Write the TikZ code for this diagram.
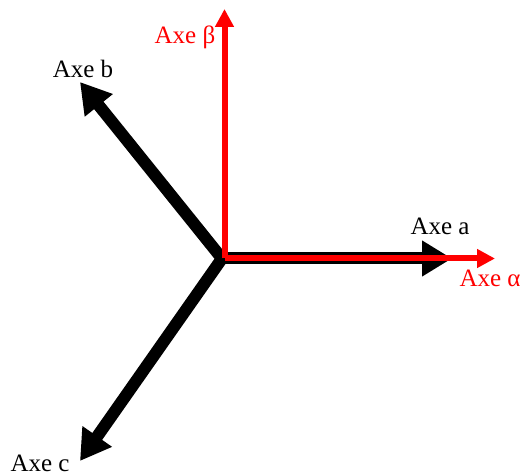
\documentclass[tikz,border=0pt]{standalone}
\usepackage{fontspec}
\setmainfont{Liberation Serif}
\usetikzlibrary{arrows.meta}

\begin{document}
\begin{tikzpicture}[
    x=1pt, y=-1pt,
    every node/.style={font=\fontsize{25}{29}\selectfont, inner sep=0pt, anchor=base},
    abcaxis/.style={line width=12pt, -{Triangle[length=30pt, width=34pt]}},
    albeaxis/.style={red, line width=6pt, -{Triangle[length=18pt, width=18pt]}},
    lbl/.style={text=black},
    lblred/.style={text=red}
  ]
    \useasboundingbox (0,0) rectangle (523,476);

    % origins of the two frames
    \coordinate (o) at (222,258.5);
    \coordinate (o2) at (224.5,258.5);

    % tips
    \coordinate (ta) at (452,258.5);
    \coordinate (tb) at (80,82);
    \coordinate (tc) at (80,461);
    \coordinate (talpha) at (495,258.5);
    \coordinate (tbeta) at (224.5,9);

    % labels
    \node[lbl] (axea) at (440,235) {Axe a};
    \node[lbl] (axeb) at (83,78) {Axe b};
    \node[lbl] (axec) at (40,471) {Axe c};
    \node[lblred] (axealpha) at (490,287) {Axe α};
    \node[lblred] (axebeta) at (185,44) {Axe β};

    \draw[abcaxis] (o) -- (ta);
    \draw[abcaxis] (o) -- (tb);
    \draw[abcaxis] (o) -- (tc);

    \draw[albeaxis] (o2) -- (talpha);
    \draw[albeaxis] (o2) -- (tbeta);
  \end{tikzpicture}
\end{document}
